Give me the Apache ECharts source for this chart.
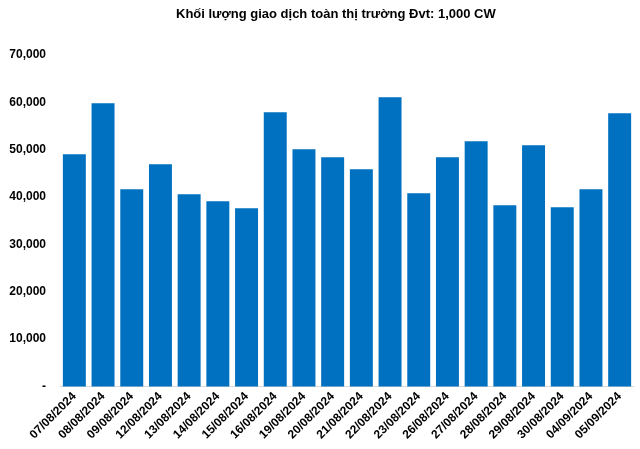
<!DOCTYPE html>
<html><head><meta charset="utf-8">
<script src="https://cdn.jsdelivr.net/npm/echarts@6/dist/echarts.min.js"></script>
<style>html,body{margin:0;padding:0;background:#fff}#c{width:640px;height:449px}</style>
</head><body><div id="c"></div>
<script>
const titleText = 'Khối lượng giao dịch toàn thị trường Đvt: 1,000 CW';
const categories = ['07/08/2024','08/08/2024','09/08/2024','12/08/2024','13/08/2024','14/08/2024','15/08/2024','16/08/2024','19/08/2024','20/08/2024','21/08/2024','22/08/2024','23/08/2024','26/08/2024','27/08/2024','28/08/2024','29/08/2024','30/08/2024','04/09/2024','05/09/2024'];
const volumes = [49050,59800,41670,46940,40610,39140,37660,57900,50100,48420,45890,61080,40820,48420,51790,38290,50950,37870,41670,57700];

const chart = echarts.init(document.getElementById('c'));
chart.setOption({
  animation:false,
  title:{text:titleText,left:171,top:3,textStyle:{fontFamily:'Liberation Sans',fontWeight:'bold',fontSize:13,color:'#000'}},
  grid:{left:60,right:6,top:55,bottom:62.5,containLabel:false},
  xAxis:{type:'category',data:categories,
    axisLine:{lineStyle:{color:'#d9d9d9',width:1}},axisTick:{show:false},
    axisLabel:{rotate:45,interval:0,fontFamily:'Liberation Sans',fontWeight:'bold',fontSize:12,color:'#000',margin:8}},
  yAxis:{type:'value',min:0,max:70000,interval:10000,
    splitLine:{show:false},axisLine:{show:false},axisTick:{show:false},
    axisLabel:{fontFamily:'Liberation Sans',fontWeight:'bold',fontSize:12,color:'#000',margin:14,
      formatter:v=>v===0?'-':v.toLocaleString('en-US')}},
  series:[{type:'bar',data:volumes,barCategoryGap:'20%',itemStyle:{color:'#0070C0'}}]
});
</script></body></html>
